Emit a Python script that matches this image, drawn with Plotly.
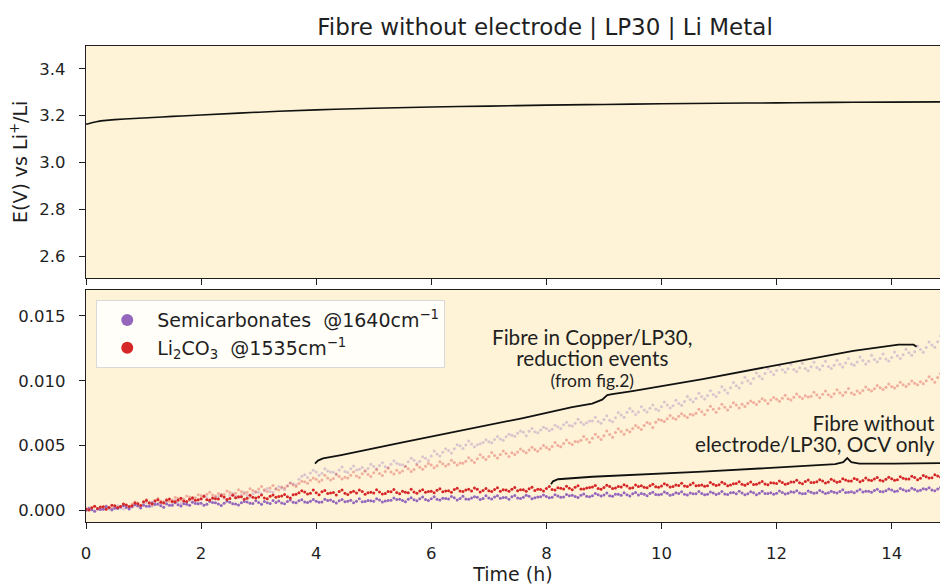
import plotly.graph_objects as go
from plotly.subplots import make_subplots

# ---------------- data ----------------
# time axes for the spectroscopy points (h): full steps and the half steps in between
time_h = [round(i * 0.1, 1) for i in range(150)]
time_h_mid = [round(0.05 + i * 0.1, 2) for i in range(150)]

# values below are in units of 1e-4 (intensity)
semi_ocv_e4 = [
    0.0, 0.5, 1.2, 0.8, 2.0, 1.6, 2.5, 2.2, 3.0, 3.4,
    4.0, 3.2, 4.5, 3.6, 4.8, 3.9, 4.4, 5.1, 4.0, 5.3,
    5.4, 4.6, 6.0, 4.8, 5.5, 6.2, 4.9, 5.8, 6.4, 5.2,
    6.0, 6.8, 5.3, 6.1, 5.6, 6.9, 6.2, 7.4, 6.5, 7.1,
    7.0, 6.4, 7.6, 6.8, 7.3, 6.6, 7.8, 7.0, 6.7, 7.5,
    7.1, 8.0, 7.2, 7.8, 8.4, 7.5, 8.6, 8.1, 9.0, 8.4,
    9.0, 8.5, 9.4, 8.8, 9.8, 9.1, 8.7, 9.6, 10.1, 9.2,
    9.5, 10.2, 9.3, 9.9, 10.5, 9.6, 10.0, 10.8, 9.8, 10.4,
    10.6, 10.1, 11.0, 10.3, 11.3, 10.7, 11.6, 10.9, 11.2, 12.0,
    11.8, 11.2, 12.4, 11.6, 12.1, 12.8, 11.9, 12.5, 13.0, 12.2,
    12.5, 13.1, 12.3, 12.9, 12.4, 13.3, 12.7, 13.0, 12.5, 13.4,
    13.0, 12.6, 13.5, 12.8, 13.3, 12.7, 13.6, 13.1, 12.9, 13.5,
    13.1, 13.8, 13.2, 14.0, 13.4, 13.0, 13.9, 13.5, 14.2, 13.6,
    14.0, 14.6, 13.8, 14.4, 15.0, 14.2, 14.8, 15.3, 14.6, 15.1,
    15.6, 15.0, 15.8, 15.3, 16.0, 15.5, 16.2, 15.7, 16.4, 16.8,
]
semi_ocv_mid_e4 = [
    1.4, -0.8, 0.6, 2.9, 0.4, 1.5, 3.6, 1.1, 4.3, 2.0,
    3.1, 5.8, 4.9, 2.4, 4.0, 5.9, 3.3, 4.7, 6.2, 5.0,
    3.9, 6.8, 5.9, 3.8, 7.0, 5.0, 4.2, 6.9, 5.4, 7.4,
    4.6, 5.9, 7.6, 7.2, 5.1, 7.9, 5.8, 8.2, 6.0, 8.4,
    6.2, 8.6, 7.9, 5.6, 8.3, 7.0, 5.9, 8.9, 6.8, 7.3,
    8.9, 6.4, 7.6, 9.5, 8.6, 6.6, 9.7, 7.4, 10.2, 7.6,
    10.4, 8.0, 9.2, 10.7, 7.9, 10.8, 8.5, 10.5, 8.4, 11.2,
    8.8, 11.3, 9.9, 8.6, 11.4, 9.2, 11.6, 9.0, 10.3, 11.9,
    9.7, 12.1, 10.0, 12.3, 11.7, 9.9, 12.6, 10.4, 12.9, 11.1,
    13.3, 10.8, 12.5, 13.6, 11.1, 13.8, 12.9, 11.3, 13.9, 12.0,
    14.2, 11.6, 13.6, 14.3, 11.8, 12.8, 14.5, 12.0, 14.2, 12.3,
    14.5, 12.2, 13.8, 14.7, 12.0, 14.4, 12.1, 14.8, 13.0, 12.4,
    14.9, 12.6, 14.4, 15.1, 12.8, 14.9, 13.2, 15.3, 13.0, 14.8,
    13.4, 15.8, 14.0, 13.6, 16.1, 14.7, 13.9, 16.2, 14.4, 16.5,
    14.5, 16.8, 15.0, 17.0, 14.9, 16.6, 17.4, 15.2, 17.6, 16.0,
]
li2co3_ocv_e4 = [
    1.0, 2.0, 1.5, 2.8, 2.2, 3.5, 3.0, 4.2, 3.6, 5.0,
    6.5, 5.6, 7.2, 6.2, 7.8, 6.8, 8.0, 7.2, 8.6, 7.8,
    9.0, 8.2, 9.6, 8.8, 10.2, 9.1, 9.7, 10.4, 9.3, 10.0,
    10.2, 9.6, 10.8, 10.0, 11.0, 10.4, 12.0, 13.6, 14.2, 13.2,
    13.5, 14.3, 12.9, 13.8, 14.5, 13.1, 14.0, 13.3, 14.6, 13.6,
    13.4, 14.2, 13.0, 14.4, 13.7, 14.8, 13.5, 14.1, 15.0, 13.9,
    14.8, 15.5, 14.4, 15.2, 16.0, 14.9, 15.6, 15.0, 16.2, 15.3,
    15.2, 16.0, 14.8, 15.7, 16.3, 15.1, 15.9, 16.6, 15.4, 16.1,
    16.8, 16.0, 17.4, 16.4, 17.0, 17.8, 16.5, 17.3, 18.0, 16.9,
    17.6, 18.4, 17.2, 18.0, 18.8, 17.5, 18.3, 17.8, 19.0, 18.2,
    18.8, 19.5, 18.4, 19.2, 18.7, 19.8, 19.0, 19.6, 18.9, 20.2,
    19.8, 20.5, 19.5, 20.8, 20.1, 20.6, 19.9, 21.0, 20.4, 21.3,
    20.8, 21.5, 20.7, 21.9, 21.2, 22.3, 21.4, 22.0, 22.6, 21.8,
    22.8, 22.2, 23.4, 22.6, 23.8, 23.0, 23.5, 24.1, 23.2, 24.0,
    24.3, 23.6, 24.8, 24.2, 25.4, 24.7, 25.9, 25.2, 26.4, 27.0,
]
li2co3_ocv_mid_e4 = [
    0.2, 3.2, 2.6, 0.9, 4.0, 2.1, 4.9, 2.9, 5.6, 3.8,
    7.6, 4.9, 8.1, 5.7, 8.8, 6.6, 9.4, 6.9, 9.7, 8.1,
    10.8, 7.9, 9.0, 11.2, 8.4, 11.6, 10.4, 8.5, 11.7, 9.6,
    11.9, 8.9, 11.8, 10.6, 12.3, 9.6, 12.5, 15.2, 12.6, 15.6,
    12.1, 15.4, 13.3, 11.9, 15.6, 12.2, 14.8, 15.7, 12.4, 14.0,
    15.8, 12.6, 14.5, 16.0, 12.8, 13.9, 16.2, 13.2, 15.9, 14.6,
    13.6, 16.7, 15.0, 13.9, 17.0, 14.5, 16.3, 17.2, 14.2, 16.9,
    14.6, 17.4, 15.8, 14.7, 17.6, 15.9, 14.8, 17.8, 16.2, 15.0,
    18.3, 15.6, 17.1, 18.6, 15.8, 18.9, 16.4, 17.7, 19.2, 16.3,
    19.4, 16.8, 18.4, 19.8, 17.0, 19.6, 18.9, 17.4, 20.2, 17.9,
    20.5, 18.0, 19.6, 20.9, 18.3, 21.0, 19.1, 18.6, 21.4, 19.2,
    21.6, 19.0, 20.6, 22.0, 19.3, 21.9, 20.2, 22.3, 19.8, 21.1,
    22.7, 20.1, 21.9, 23.2, 20.6, 23.4, 21.5, 23.6, 21.0, 24.0,
    21.6, 24.3, 22.6, 24.6, 22.0, 25.0, 23.1, 25.4, 22.7, 25.5,
    23.2, 25.9, 24.1, 26.3, 23.6, 26.8, 25.0, 27.5, 25.6, 28.2,
]
semi_copper_e4 = [
    0.0, 0.8, 0.4, 1.5, 1.0, 2.2, 1.8, 2.9, 2.4, 3.5,
    4.5, 4.0, 5.4, 4.8, 6.0, 5.5, 6.8, 6.2, 7.5, 7.0,
    8.5, 9.8, 9.0, 10.6, 9.6, 11.4, 10.8, 12.0, 11.5, 12.8,
    14.0, 15.2, 14.6, 16.5, 17.2, 19.0, 20.5, 24.0, 27.5, 28.8,
    29.5, 28.6, 30.4, 29.3, 31.2, 30.0, 32.0, 31.1, 33.0, 32.2,
    33.8, 34.6, 33.6, 35.5, 36.4, 35.2, 37.5, 38.6, 37.8, 40.2,
    42.0, 43.5, 44.8, 46.2, 47.5, 49.8, 50.5, 51.2, 50.6, 52.4,
    53.0, 54.6, 55.0, 56.8, 58.0, 59.5, 60.2, 61.0, 60.6, 62.0,
    63.2, 62.6, 64.5, 66.0, 65.4, 67.2, 68.0, 67.5, 69.0, 68.6,
    70.0, 69.5, 71.4, 73.5, 75.6, 76.4, 75.8, 77.5, 78.8, 78.2,
    80.0, 81.2, 80.6, 82.5, 84.0, 85.6, 86.2, 87.8, 88.6, 89.4,
    91.0, 92.8, 94.5, 96.2, 98.5, 100.0, 101.8, 103.5, 105.6, 107.0,
    107.8, 108.5, 109.2, 108.6, 110.0, 109.4, 110.8, 110.2, 111.5, 110.9,
    112.0, 112.8, 113.6, 113.0, 114.5, 115.6, 115.0, 116.4, 117.2, 116.8,
    118.0, 119.2, 120.0, 121.5, 122.4, 124.0, 125.6, 127.5, 130.0, 133.0,
]
semi_copper_mid_e4 = [
    1.9, -0.5, 0.9, 2.8, 0.2, 3.5, 1.1, 2.4, 4.3, 1.6,
    5.9, 3.1, 4.6, 6.9, 4.0, 7.7, 5.2, 6.1, 8.9, 5.9,
    11.3, 7.6, 10.1, 12.5, 8.3, 12.9, 9.7, 13.9, 10.2, 14.6,
    12.8, 16.9, 14.0, 18.4, 15.9, 21.2, 19.7, 26.3, 25.4, 31.0,
    27.1, 32.0, 29.6, 27.5, 33.4, 29.1, 34.2, 31.7, 30.2, 35.6,
    32.0, 36.8, 33.1, 38.2, 35.4, 34.0, 40.1, 36.2, 41.4, 38.4,
    45.8, 41.9, 47.6, 44.3, 50.6, 47.7, 53.5, 49.0, 51.3, 54.4,
    52.1, 56.9, 54.1, 58.7, 57.2, 61.3, 57.6, 63.1, 59.8, 64.2,
    61.4, 65.6, 63.1, 67.9, 65.0, 70.3, 66.2, 69.0, 71.8, 67.1,
    72.9, 68.3, 75.4, 71.8, 78.6, 74.0, 79.9, 75.9, 81.3, 77.0,
    83.6, 79.0, 84.9, 81.1, 87.9, 83.7, 90.4, 85.9, 92.3, 87.8,
    95.4, 90.6, 98.6, 94.3, 102.6, 97.8, 106.0, 101.5, 109.5, 104.9,
    111.6, 106.5, 112.8, 107.1, 113.5, 107.7, 114.2, 108.6, 115.0, 109.4,
    115.8, 110.6, 117.2, 111.9, 118.4, 113.0, 119.6, 114.7, 120.6, 115.3,
    122.1, 117.1, 124.3, 119.6, 126.8, 122.0, 129.8, 125.8, 134.6, 131.0,
]
li2co3_copper_e4 = [
    1.0, 1.8, 1.4, 2.6, 2.2, 3.4, 3.0, 4.2, 4.8, 5.6,
    7.0, 6.4, 7.8, 7.2, 8.6, 8.0, 9.4, 8.8, 10.2, 9.8,
    11.5, 12.4, 11.8, 13.0, 12.5, 13.8, 13.2, 14.5, 14.0, 15.4,
    16.5, 15.8, 17.2, 16.6, 18.0, 18.8, 19.5, 20.8, 22.0, 23.2,
    24.0, 23.4, 25.0, 24.6, 26.2, 25.5, 27.0, 26.4, 28.2, 27.6,
    29.0, 28.4, 30.0, 29.5, 31.0, 30.4, 32.0, 31.5, 33.2, 34.0,
    35.0, 34.4, 36.0, 35.6, 37.0, 36.5, 37.8, 38.6, 39.8, 41.0,
    41.5, 42.4, 43.0, 43.8, 44.5, 45.0, 45.8, 46.5, 47.0, 47.8,
    48.5, 49.2, 50.0, 51.5, 52.0, 53.2, 54.0, 54.8, 55.6, 56.5,
    57.5, 58.6, 60.0, 60.8, 62.0, 63.2, 64.0, 65.5, 66.8, 68.0,
    69.5, 70.6, 71.2, 72.5, 73.0, 74.2, 75.0, 76.0, 77.2, 78.0,
    78.6, 79.5, 80.0, 81.2, 81.8, 82.6, 83.2, 84.0, 84.8, 85.2,
    85.8, 86.5, 86.0, 87.2, 87.6, 88.4, 88.0, 89.0, 89.6, 89.2,
    90.0, 90.8, 91.2, 90.6, 92.0, 92.5, 93.2, 93.8, 94.5, 95.0,
    95.6, 96.2, 96.8, 97.5, 98.0, 99.2, 100.0, 101.2, 102.5, 104.0,
]
li2co3_copper_mid_e4 = [
    0.4, 2.9, 1.0, 3.4, 1.5, 2.0, 4.6, 2.7, 6.4, 4.1,
    8.4, 5.5, 9.1, 6.2, 7.0, 10.1, 7.9, 11.0, 8.7, 12.0,
    10.4, 14.0, 11.1, 12.0, 15.0, 12.0, 15.9, 12.7, 16.6, 13.9,
    18.3, 14.6, 19.1, 15.6, 17.2, 20.9, 18.3, 22.5, 20.9, 25.0,
    22.0, 27.0, 23.5, 28.1, 24.2, 24.9, 29.6, 25.3, 30.6, 26.1,
    31.4, 26.9, 32.4, 28.1, 29.0, 33.8, 29.9, 34.9, 31.7, 36.1,
    32.9, 37.4, 34.2, 38.6, 35.0, 36.3, 40.5, 37.0, 42.8, 39.2,
    44.7, 40.3, 45.7, 41.6, 43.0, 47.3, 44.4, 48.7, 45.6, 50.1,
    47.2, 52.3, 49.1, 54.2, 50.7, 52.9, 57.0, 52.6, 58.8, 54.6,
    61.2, 56.4, 62.9, 58.8, 60.6, 65.4, 62.4, 67.8, 64.0, 70.0,
    68.6, 73.1, 70.2, 74.6, 71.7, 73.6, 78.0, 73.9, 80.3, 75.6,
    81.8, 77.4, 83.0, 78.9, 80.2, 84.4, 81.6, 86.1, 82.4, 87.0,
    84.2, 88.8, 85.1, 89.7, 86.2, 87.5, 91.2, 86.9, 92.0, 87.6,
    93.0, 88.7, 94.0, 89.3, 90.6, 95.2, 92.0, 96.3, 93.2, 97.4,
    94.4, 98.9, 95.6, 99.7, 96.8, 97.6, 103.0, 98.9, 105.4, 101.9,
]

# potential vs Li+/Li
pot_time_h = [0, 0.1, 0.2, 0.3, 0.5, 0.75, 1, 1.5, 2, 3, 4, 5, 6, 7, 8, 9, 10, 11, 12, 13, 14, 14.9]
pot_v = [3.163, 3.170, 3.175, 3.179, 3.183, 3.187, 3.190, 3.197, 3.203, 3.215, 3.225,
         3.232, 3.237, 3.241, 3.245, 3.248, 3.251, 3.253, 3.255, 3.257, 3.258, 3.259]

# curly-brace annotation outlines (time h, intensity)
brace1_t = [3.979, 4.031, 4.119, 4.433, 5.480, 6.527, 7.574, 8.447, 8.796, 8.970, 9.058,
            9.145, 9.494, 10.716, 12.112, 13.333, 14.119, 14.293, 14.380, 14.433]
brace1_v = [0.00360, 0.00384, 0.00400, 0.00426, 0.00523, 0.00617, 0.00710, 0.00796, 0.00823,
            0.00854, 0.00889, 0.00897, 0.00920, 0.01013, 0.01130, 0.01231, 0.01278, 0.01281,
            0.01278, 0.01262]
brace2_t = [8.080, 8.115, 8.202, 8.796, 10.716, 12.461, 13.019, 13.159, 13.229, 13.298,
            13.438, 14.031, 14.904]
brace2_v = [0.00201, 0.00224, 0.00240, 0.00259, 0.00298, 0.00341, 0.00356, 0.00372, 0.00403,
            0.00372, 0.00360, 0.00360, 0.00364]

scale = 1e-4


def series(full, mid):
    return [v * scale for v in full] + [v * scale for v in mid]


t_all = time_h + time_h_mid
semi_ocv = series(semi_ocv_e4, semi_ocv_mid_e4)
li2co3_ocv = series(li2co3_ocv_e4, li2co3_ocv_mid_e4)
semi_copper = series(semi_copper_e4, semi_copper_mid_e4)
li2co3_copper = series(li2co3_copper_e4, li2co3_copper_mid_e4)

PURPLE = "#9467bd"
RED = "#d62728"
BG = "#fef3d6"
INK = "#1f1f1f"
FONT = "DejaVu Sans"
ANN_FONT = "Lato"

fig = make_subplots(rows=2, cols=1, shared_xaxes=True, vertical_spacing=0.025)

fig.add_trace(go.Scatter(x=pot_time_h, y=pot_v, mode="lines", line=dict(color="#111111", width=1.6, shape="spline"),
                         showlegend=False, hoverinfo="skip"), row=1, col=1)

fig.add_trace(go.Scatter(x=t_all, y=semi_copper, mode="markers", marker=dict(color=PURPLE, size=3),
                         opacity=0.33, showlegend=False), row=2, col=1)
fig.add_trace(go.Scatter(x=t_all, y=li2co3_copper, mode="markers", marker=dict(color=RED, size=3),
                         opacity=0.33, showlegend=False), row=2, col=1)
fig.add_trace(go.Scatter(x=t_all, y=semi_ocv, mode="markers", marker=dict(color=PURPLE, size=3),
                         name="Semicarbonates  @1640cm<sup>−1</sup>"), row=2, col=1)
fig.add_trace(go.Scatter(x=t_all, y=li2co3_ocv, mode="markers", marker=dict(color=RED, size=3),
                         name="Li<sub>2</sub>CO<sub>3</sub>  @1535cm<sup>−1</sup>"), row=2, col=1)

for bt, bv in ((brace1_t, brace1_v), (brace2_t, brace2_v)):
    fig.add_trace(go.Scatter(x=bt, y=bv, mode="lines", line=dict(color="#111111", width=1.8),
                             showlegend=False, hoverinfo="skip"), row=2, col=1)

axis_common = dict(showline=True, linecolor=INK, linewidth=1.3, ticks="outside", ticklen=6,
                   tickwidth=1.2, tickcolor=INK, showgrid=False, zeroline=False,
                   tickfont=dict(family=FONT, size=16.5, color=INK))

fig.update_xaxes(**axis_common, range=[0, 14.84], dtick=2, mirror=True)
fig.update_xaxes(showticklabels=False, row=1, col=1)
fig.update_xaxes(title=dict(text="Time (h)", font=dict(family=FONT, size=19, color=INK), standoff=4),
                 ticklabelstandoff=10, row=2, col=1)
fig.update_yaxes(**axis_common)
fig.update_yaxes(range=[2.506, 3.498], dtick=0.2, tickformat=".1f", ticklabelstandoff=10, row=1, col=1)
fig.update_yaxes(range=[-0.0009, 0.0170], dtick=0.005, tickformat=".3f", ticklabelstandoff=10, row=2, col=1)

fig.update_layout(
    width=940, height=585,
    margin=dict(l=86, r=0, t=46, b=63),
    paper_bgcolor="white", plot_bgcolor=BG,
    font=dict(family=FONT, color=INK),
    title=dict(text="Fibre without electrode | LP30 | Li Metal", x=545 / 940, xanchor="center",
               y=1 - 27 / 585, yanchor="middle", font=dict(family=FONT, size=23, color=INK)),
    legend=dict(x=0.012, y=0.466, xanchor="left", yanchor="top", bgcolor="rgba(255,255,255,0.85)",
                bordercolor="#d9d9d9", borderwidth=1, font=dict(family=FONT, size=19, color=INK),
                itemsizing="constant", itemwidth=50),
)
fig.layout.yaxis.domain = [244 / 476, 1.0]
fig.layout.yaxis2.domain = [0.0, 232 / 476]

BIG = "<span style='font-size:20.7px'>{}</span>"
SMALL = "<span style='font-size:17.5px'>{}</span>"

ann = [
    dict(text="E(V) vs Li<sup>+</sup>/Li", xref="paper", yref="paper", x=(19 - 86) / 854,
         y=(522 - 162) / 476, textangle=-90, xanchor="center", yanchor="middle",
         font=dict(family=FONT, size=19, color=INK)),
    dict(text=BIG.format("Fibre in Copper/LP30,") + "<br>" + BIG.format("reduction events") + "<br>"
         + SMALL.format("(from fig.2)"),
         xref="x2", yref="y2", x=8.81, y=0.01173, xanchor="center", yanchor="middle", align="center",
         font=dict(family=ANN_FONT, size=16, color=INK)),
    dict(text=BIG.format("Fibre without") + "<br>" + BIG.format("electrode/LP30, OCV only"),
         xref="x2", yref="y2", x=14.78, y=0.00592, xanchor="right", yanchor="middle", align="right",
         font=dict(family=ANN_FONT, size=16, color=INK)),
]
for a in ann:
    a["showarrow"] = False
    fig.add_annotation(**a)

fig.write_html("out.html")
